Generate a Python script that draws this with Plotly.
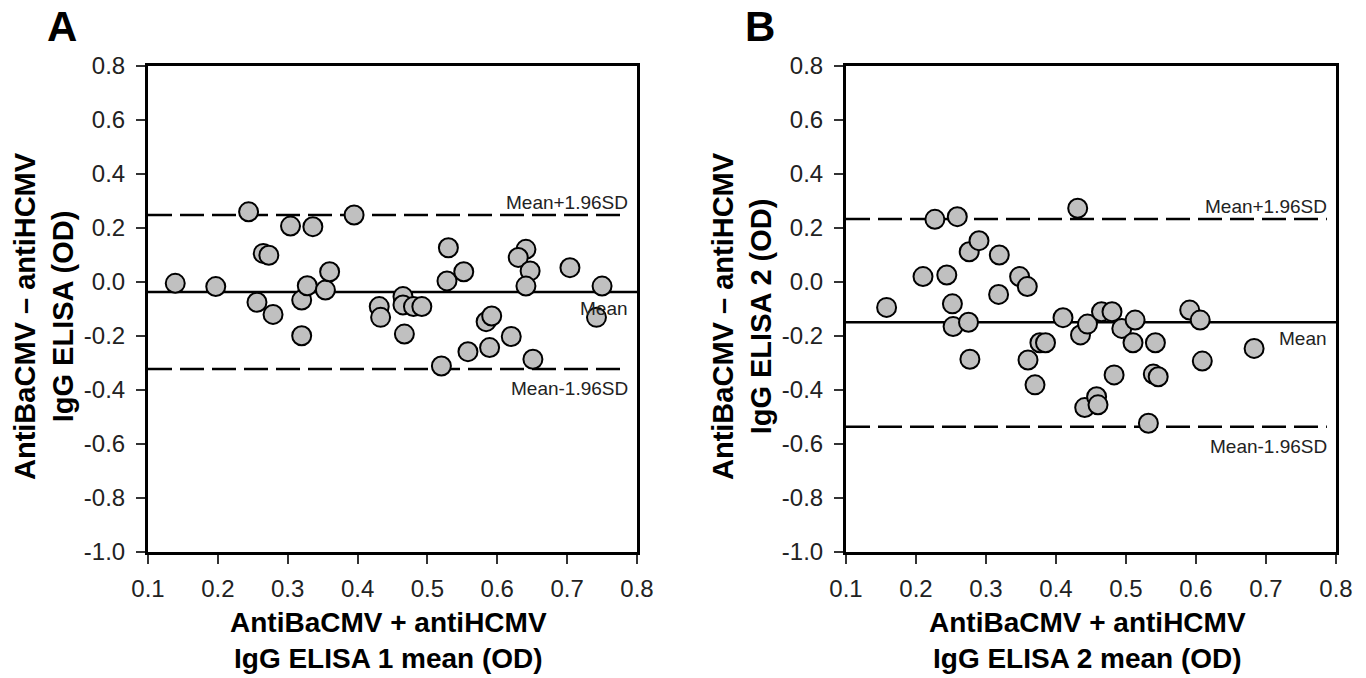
import plotly.graph_objects as go

# panel A: ELISA 1
a_mean_od = [0.139, 0.197, 0.244, 0.265, 0.273, 0.304, 0.336, 0.395, 0.256, 0.279,
             0.320, 0.328, 0.320, 0.354, 0.360, 0.431, 0.433, 0.465, 0.465, 0.480,
             0.492, 0.467, 0.530, 0.528, 0.552, 0.520, 0.558, 0.584, 0.592, 0.589,
             0.620, 0.641, 0.630, 0.647, 0.641, 0.651, 0.704, 0.750, 0.742]
a_diff_od = [-0.005, -0.017, 0.260, 0.106, 0.099, 0.207, 0.205, 0.248, -0.075, -0.120,
             -0.067, -0.014, -0.199, -0.030, 0.038, -0.091, -0.131, -0.054, -0.085, -0.091,
             -0.091, -0.193, 0.127, 0.004, 0.038, -0.311, -0.258, -0.147, -0.126, -0.243,
             -0.202, 0.121, 0.091, 0.041, -0.015, -0.286, 0.053, -0.015, -0.131]
a_limits = [-0.037, 0.248, -0.322]   # mean, mean+1.96SD, mean-1.96SD

# panel B: ELISA 2
b_mean_od = [0.158, 0.210, 0.244, 0.227, 0.259, 0.252, 0.253, 0.275, 0.277, 0.276,
             0.290, 0.319, 0.318, 0.348, 0.359, 0.360, 0.370, 0.377, 0.385, 0.410,
             0.431, 0.435, 0.445, 0.465, 0.441, 0.458, 0.460, 0.480, 0.494, 0.513,
             0.510, 0.542, 0.483, 0.539, 0.546, 0.532, 0.591, 0.606, 0.609, 0.683]
b_diff_od = [-0.094, 0.020, 0.026, 0.232, 0.242, -0.081, -0.165, -0.149, -0.286, 0.112,
             0.153, 0.100, -0.046, 0.020, -0.017, -0.289, -0.381, -0.225, -0.225, -0.132,
             0.273, -0.196, -0.156, -0.110, -0.465, -0.425, -0.455, -0.110, -0.172, -0.141,
             -0.225, -0.225, -0.344, -0.341, -0.351, -0.523, -0.104, -0.141, -0.293, -0.246]
b_limits = [-0.149, 0.233, -0.536]

x_ticks = [0.1, 0.2, 0.3, 0.4, 0.5, 0.6, 0.7, 0.8]
y_ticks = [0.8, 0.6, 0.4, 0.2, 0.0, -0.2, -0.4, -0.6, -0.8, -1.0]
limit_labels = ["Mean", "Mean+1.96SD", "Mean-1.96SD"]

FONT = "Liberation Sans, Arial, sans-serif"
W, H = 1366, 678   # body margin is removed by post_script below


def px(x):
    return x / W


def py(y):
    return 1 - y / H


fig = go.Figure()
panels = [
    (a_mean_od, a_diff_od, a_limits, "x", "y", "1", "A", 148, 637),
    (b_mean_od, b_diff_od, b_limits, "x2", "y2", "2", "B", 846, 1336),
]

for xs, ys, lims, xa, ya, num, letter, left, right in panels:
    fig.add_trace(go.Scatter(
        x=xs, y=ys, mode="markers", xaxis=xa, yaxis=ya, showlegend=False,
        marker=dict(size=19, color="#c0c0c0", line=dict(color="black", width=2)),
    ))
    for i, v in enumerate(lims):
        fig.add_shape(type="line", xref=xa, yref=ya, x0=0.1, x1=0.8 if i == 0 else 0.787,
                      y0=v, y1=v,
                      line=dict(color="black", width=2.5,
                                dash="solid" if i == 0 else "24px,8px"),
                      layer="below")
    shifts = [-4, 0, -7]
    for i, v in enumerate(lims):
        above = i == 1
        fig.add_annotation(xref=xa, yref=ya, x=0.79, y=v, text=limit_labels[i],
                           showarrow=False, xanchor="right",
                           yanchor="bottom" if above else "top",
                           yshift=shifts[i],
                           font=dict(family=FONT, size=19, color="#222"))
    # axis titles and panel letter
    fig.add_annotation(xref="paper", yref="paper", x=px((left + right) / 2 - 4), y=py(640),
                       yanchor="middle", xanchor="center",
                       text="<b>AntiBaCMV + antiHCMV<br>IgG ELISA " + num + " mean (OD)</b>",
                       showarrow=False, font=dict(family=FONT, size=28, color="black"))
    fig.add_annotation(xref="paper", yref="paper", x=px(left - 104), y=py(316),
                       xanchor="center", yanchor="middle", textangle=-90,
                       text="<b>AntiBaCMV – antiHCMV<br>IgG ELISA" + ("" if num == "1" else " 2") + " (OD)</b>",
                       showarrow=False, font=dict(family=FONT, size=29, color="black"))
    fig.add_annotation(xref="paper", yref="paper", x=px(left - 86), y=py(27),
                       xanchor="center", yanchor="middle", text="<b>" + letter + "</b>",
                       showarrow=False, font=dict(family=FONT, size=42, color="black"))

axis_common = dict(showgrid=False, zeroline=False, showline=True, linecolor="black",
                   linewidth=3, mirror=True, ticks="outside", ticklen=9,
                   tickwidth=1.5, tickcolor="#333", automargin=False,
                   tickfont=dict(family=FONT, size=24, color="#222"))
x_text = ["%.1f" % v for v in x_ticks]
y_text = ["%.1f" % v for v in y_ticks]
ydom = [py(552), py(66)]

fig.update_layout(
    template="none",
    width=W, height=H,
    margin=dict(l=0, r=0, t=0, b=0),
    paper_bgcolor="white", plot_bgcolor="white",
    font=dict(family=FONT),
    xaxis=dict(domain=[px(148), px(637)], range=[0.1, 0.8], tickvals=x_ticks,
               ticktext=x_text, anchor="y", ticklabelstandoff=4, **axis_common),
    yaxis=dict(domain=ydom, range=[-1.0, 0.8], tickvals=y_ticks,
               ticktext=y_text, anchor="x", ticklabelstandoff=6, **axis_common),
    xaxis2=dict(domain=[px(846), px(1336)], range=[0.1, 0.8], tickvals=x_ticks,
                ticktext=x_text, anchor="y2", ticklabelstandoff=4, **axis_common),
    yaxis2=dict(domain=ydom, range=[-1.0, 0.8], tickvals=y_ticks,
                ticktext=y_text, anchor="x2", ticklabelstandoff=6, **axis_common),
)

fig.write_html("out.html", config={"displayModeBar": False},
               post_script="document.body.style.margin='0';document.body.style.overflow='hidden';")
